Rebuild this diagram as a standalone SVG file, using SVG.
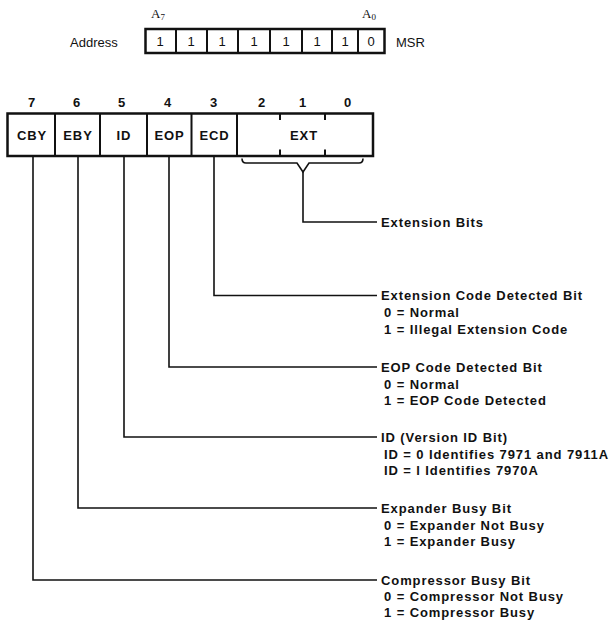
<svg xmlns="http://www.w3.org/2000/svg" width="615" height="623" viewBox="0 0 615 623">
<style>
  .t { font-family: "Liberation Sans", Arial, Helvetica, sans-serif; font-size: 13px; font-weight: bold; letter-spacing: 0.9px; fill: #111; }
  .r { font-family: "Liberation Sans", Arial, Helvetica, sans-serif; font-size: 13px; fill: #111; }
  .s { font-family: "Liberation Serif", "Times New Roman", serif; font-size: 13px; fill: #111; }
  .c { text-anchor: middle; }
  .box { fill: #fff; stroke: #111; stroke-width: 2.5; }
  .div { stroke: #111; stroke-width: 2; fill: none; }
  .ln { stroke: #111; stroke-width: 1.6; fill: none; }
</style>
<rect width="615" height="623" fill="#fff"/>

<g id="address-register">
  <text class="s" x="151" y="18">A<tspan font-size="9" dy="2">7</tspan></text>
  <text class="s" x="362" y="18">A<tspan font-size="9" dy="2">0</tspan></text>
  <text class="r" x="70" y="46.5">Address</text>
  <rect class="box" x="145.5" y="29" width="239" height="24"/>
  <path class="div" d="M176 29V53M207 29V53M238 29V53M270 29V53M302 29V53M332 29V53M358 29V53"/>
  <g class="r c">
    <text x="160" y="46">1</text>
    <text x="191" y="46">1</text>
    <text x="222" y="46">1</text>
    <text x="254" y="46">1</text>
    <text x="286" y="46">1</text>
    <text x="317" y="46">1</text>
    <text x="345" y="46">1</text>
    <text x="371" y="46">0</text>
  </g>
  <text class="r" x="396" y="46.5">MSR</text>
</g>

<g id="bit-numbers" class="t c">
  <text x="32" y="107">7</text>
  <text x="77" y="107">6</text>
  <text x="122" y="107">5</text>
  <text x="168" y="107">4</text>
  <text x="214" y="107">3</text>
  <text x="262" y="107">2</text>
  <text x="303" y="107">1</text>
  <text x="348" y="107">0</text>
</g>

<g id="msr-register">
  <rect class="box" x="7.5" y="113.5" width="365.5" height="42.5"/>
  <path class="div" d="M55 113.5V156M100 113.5V156M147 113.5V156M191.5 113.5V156M237 113.5V156"/>
  <path class="div" d="M280 113.5V120M325 113.5V120M280 149.5V156M325 149.5V156"/>
  <g id="cell-CBY"><text class="t c" x="32" y="140">CBY</text></g>
  <g id="cell-EBY"><text class="t c" x="78" y="140">EBY</text></g>
  <g id="cell-ID"><text class="t c" x="124" y="140">ID</text></g>
  <g id="cell-EOP"><text class="t c" x="169.5" y="140">EOP</text></g>
  <g id="cell-ECD"><text class="t c" x="214.5" y="140">ECD</text></g>
  <g id="cell-EXT"><text class="t c" x="304" y="140">EXT</text></g>
</g>

<g id="connectors">
  <path class="ln" d="M242 158.5Q242 163 246 163H297L303 172L309 163H359Q363 163 363 158.5"/>
  <path class="ln" d="M303 172V222H377"/>
  <path class="ln" d="M214 156V295.5H377"/>
  <path class="ln" d="M169 156V367H377"/>
  <path class="ln" d="M124 156V437H377"/>
  <path class="ln" d="M78 156V508H377"/>
  <path class="ln" d="M33 156V580H377"/>
</g>

<g id="label-ext">
  <text class="t" x="381" y="226.5">Extension Bits</text>
</g>
<g id="label-ecd">
  <text class="t" x="381" y="300">Extension Code Detected Bit</text>
  <text class="t" x="384" y="317">0 = Normal</text>
  <text class="t" x="384" y="333.5">1 = Illegal Extension Code</text>
</g>
<g id="label-eop">
  <text class="t" x="381" y="371.5">EOP Code Detected Bit</text>
  <text class="t" x="384" y="388.5">0 = Normal</text>
  <text class="t" x="384" y="405">1 = EOP Code Detected</text>
</g>
<g id="label-id">
  <text class="t" x="381" y="441.5">ID (Version ID Bit)</text>
  <text class="t" x="384" y="458.5">ID = 0 Identifies 7971 and 7911A</text>
  <text class="t" x="384" y="475">ID = l Identifies 7970A</text>
</g>
<g id="label-eby">
  <text class="t" x="381" y="512.5">Expander Busy Bit</text>
  <text class="t" x="384" y="529.5">0 = Expander Not Busy</text>
  <text class="t" x="384" y="546">1 = Expander Busy</text>
</g>
<g id="label-cby">
  <text class="t" x="381" y="584.5">Compressor Busy Bit</text>
  <text class="t" x="384" y="601">0 = Compressor Not Busy</text>
  <text class="t" x="384" y="617">1 = Compressor Busy</text>
</g>
</svg>
